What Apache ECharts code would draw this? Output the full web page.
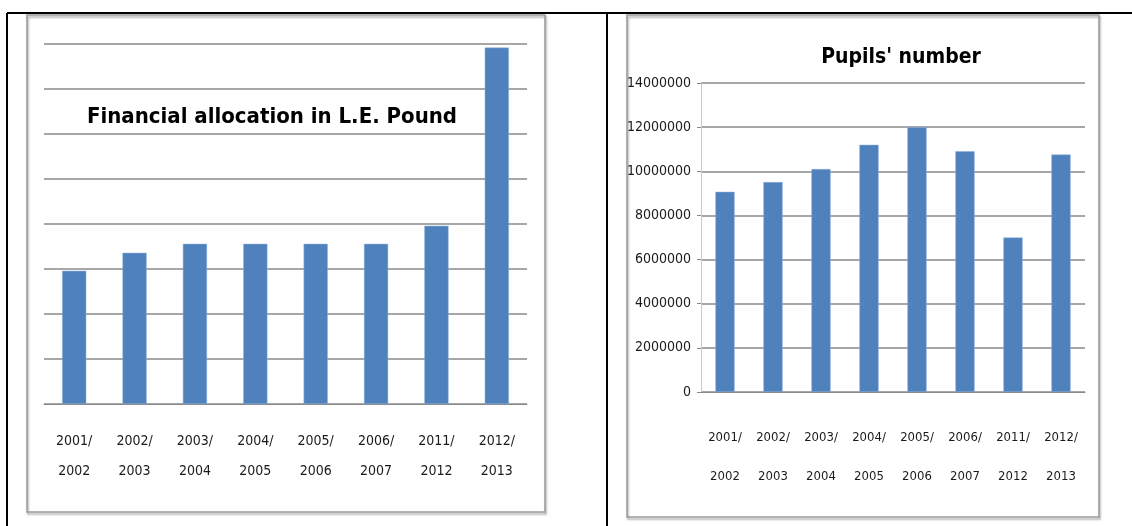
<!DOCTYPE html>
<html>
<head>
<meta charset="utf-8">
<title>Financial allocation / Pupils' number</title>
<script src="https://cdn.jsdelivr.net/npm/echarts@6/dist/echarts.min.js"></script>
<style>
  html, body { margin: 0; padding: 0; background: #fff; }
  #chart { width: 1132px; height: 526px; }
</style>
</head>
<body>
<div id="chart"></div>
<script>
// school years shared by both charts
const years = ["2001/2002", "2002/2003", "2003/2004", "2004/2005", "2005/2006", "2006/2007", "2011/2012", "2012/2013"];
// left chart has no value labels, so values are in gridline units
const allocation = [2.96, 3.36, 3.56, 3.56, 3.56, 3.56, 3.96, 7.92];
const pupils = [9070000, 9510000, 10100000, 11200000, 12000000, 10910000, 7000000, 10760000];

const FONT = "'Liberation Sans Narrow', 'DejaVu Sans Condensed', 'Liberation Sans', sans-serif";
const GRID_GRAY = "#8a8a8a";

function yearLabel(v) {
  return v.replace("/", "/\n");
}

function getOption() {
  let option = {
    backgroundColor: "#fff",
    animation: false,
    title: [
      {
        text: "Financial allocation in L.E. Pound",
        left: 267,
        top: 101,
        textAlign: "center",
        textStyle: { fontFamily: FONT, fontSize: 22, fontWeight: "bold", color: "#000" },
      },
      {
        text: "Pupils' number",
        left: 896,
        top: 42,
        textAlign: "center",
        textStyle: { fontFamily: FONT, fontSize: 21, fontWeight: "bold", color: "#000" },
      },
    ],
    grid: [
      { left: 44, right: 605, top: 44, bottom: 122 },
      { left: 701, right: 47, top: 83, bottom: 134 },
    ],
    xAxis: [
      {
        type: "category",
        gridIndex: 0,
        data: years,
        axisLine: { lineStyle: { color: GRID_GRAY } },
        axisTick: { length: 10, lineStyle: { color: "#b0b0b0" } },
        axisLabel: {
          interval: 0,
          margin: 22,
          lineHeight: 30,
          fontFamily: FONT,
          fontSize: 14,
          color: "#1a1a1a",
          formatter: yearLabel,
        },
      },
      {
        type: "category",
        gridIndex: 1,
        data: years,
        axisLine: { lineStyle: { color: GRID_GRAY } },
        axisTick: { length: 8, lineStyle: { color: "#b0b0b0" } },
        axisLabel: {
          interval: 0,
          margin: 26,
          lineHeight: 39,
          fontFamily: FONT,
          fontSize: 13,
          color: "#1a1a1a",
          formatter: yearLabel,
        },
      },
    ],
    yAxis: [
      {
        type: "value",
        gridIndex: 0,
        min: 0,
        max: 8,
        interval: 1,
        axisLine: { show: false },
        axisTick: { show: false },
        axisLabel: { show: false },
        splitLine: { lineStyle: { color: GRID_GRAY, width: 1.5 } },
      },
      {
        type: "value",
        gridIndex: 1,
        min: 0,
        max: 14000000,
        interval: 2000000,
        axisLine: { show: true, lineStyle: { color: "#c8c8c8" } },
        axisTick: { show: true, length: 4, lineStyle: { color: GRID_GRAY } },
        axisLabel: {
          margin: 10,
          fontFamily: FONT,
          fontSize: 14,
          color: "#1a1a1a",
          formatter: (v) => String(v),
        },
        splitLine: { lineStyle: { color: GRID_GRAY, width: 1.5 } },
      },
    ],
    series: [
      {
        name: "Financial allocation",
        type: "bar",
        xAxisIndex: 0,
        yAxisIndex: 0,
        barWidth: "40%",
        data: allocation,
        itemStyle: { color: "#4f81bd", borderColor: "#8fb0da", borderWidth: 0.5 },
      },
      {
        name: "Pupils' number",
        type: "bar",
        xAxisIndex: 1,
        yAxisIndex: 1,
        barWidth: "40%",
        data: pupils,
        itemStyle: { color: "#4f81bd", borderColor: "#8fb0da", borderWidth: 0.5 },
      },
    ],
    graphic: [
      // chart frames
      {
        type: "rect",
        shape: { x: 27, y: 15, width: 518, height: 497 },
        style: { fill: "none", stroke: "#9a9a9a", lineWidth: 1.5, shadowBlur: 2, shadowOffsetX: 1, shadowOffsetY: 2, shadowColor: "rgba(0,0,0,0.35)" },
        silent: true,
      },
      {
        type: "rect",
        shape: { x: 627, y: 15, width: 472, height: 502 },
        style: { fill: "none", stroke: "#9a9a9a", lineWidth: 1.5, shadowBlur: 2, shadowOffsetX: 1, shadowOffsetY: 2, shadowColor: "rgba(0,0,0,0.35)" },
        silent: true,
      },
      // table borders
      { type: "line", shape: { x1: 7, y1: 13, x2: 1132, y2: 13 }, style: { stroke: "#000", lineWidth: 2 }, silent: true },
      { type: "line", shape: { x1: 7, y1: 13, x2: 7, y2: 526 }, style: { stroke: "#000", lineWidth: 2 }, silent: true },
      { type: "line", shape: { x1: 607, y1: 13, x2: 607, y2: 526 }, style: { stroke: "#000", lineWidth: 2 }, silent: true },
    ],
  };
  return option;
}

let chart = echarts.init(document.getElementById("chart"));
chart.setOption(getOption());
</script>
</body>
</html>
